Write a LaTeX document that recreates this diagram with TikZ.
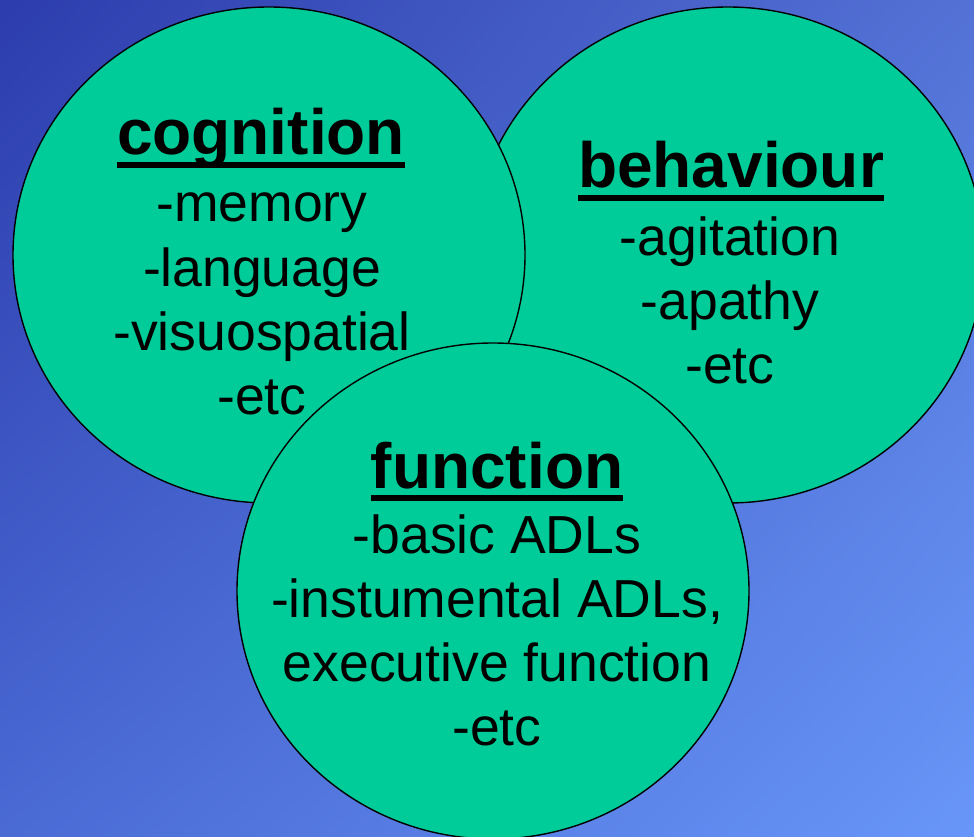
\documentclass[tikz,border=0pt]{standalone}
\usepackage{fontspec}
\setmainfont{Liberation Sans}
\usetikzlibrary{shapes.geometric,shadings}

\definecolor{bgtl}{RGB}{44,60,172}
\definecolor{bgtr}{RGB}{84,114,214}
\definecolor{bgbl}{RGB}{74,106,212}
\definecolor{bgbr}{RGB}{104,150,248}
\definecolor{venngreen}{RGB}{0,204,153}

\tikzset{
  blob/.style={ellipse, draw=black, line width=1.4pt, fill=venngreen,
    minimum width=512pt, minimum height=496pt, inner sep=0pt},
  headtxt/.style={font=\fontsize{64}{77}\selectfont\bfseries, inner sep=0pt, anchor=base},
  itemtxt/.style={font=\fontsize{53.5}{64}\selectfont, inner sep=0pt, anchor=base},
  uline/.style={line width=6pt}
}

\begin{document}
\begin{tikzpicture}[x=1pt,y=-1pt]
\shade[upper left=bgtl, upper right=bgtr, lower left=bgbl, lower right=bgbr]
  (0,0) rectangle (974,837);
\useasboundingbox (0,0) rectangle (974,837);

% circles
\node[blob] (behc) at (728,255) {};
\node[blob] (cogc) at (269,255) {};
\node[blob] (func) at (493,591) {};

% cognition
\node[headtxt] (cog) at (261,155) {cognition};
\draw[uline] ([yshift=-10pt]cog.base west) -- ([yshift=-10pt]cog.base east);
\foreach \txt [count=\i from 0] in {{-memory},{-language},{-visuospatial},{-etc}}
  \node[itemtxt] (cog\i) at (262,{222+64*\i}) {\txt};

% behaviour
\node[headtxt] (beh) at (731,188) {behaviour};
\draw[uline] ([yshift=-10pt]beh.base west) -- ([yshift=-10pt]beh.base east);
\foreach \txt [count=\i from 0] in {{-agitation},{-apathy},{-etc}}
  \node[itemtxt] (beh\i) at (730,{255+64*\i}) {\txt};

% function
\node[headtxt] (fun) at (497,488) {function};
\draw[uline] ([yshift=-10pt]fun.base west) -- ([yshift=-10pt]fun.base east);
\foreach \txt [count=\i from 0] in {{-basic ADLs},{-instumental ADLs,},{executive function},{-etc}}
  \node[itemtxt] (fun\i) at (497,{553+64*\i}) {\txt};
\end{tikzpicture}
\end{document}
